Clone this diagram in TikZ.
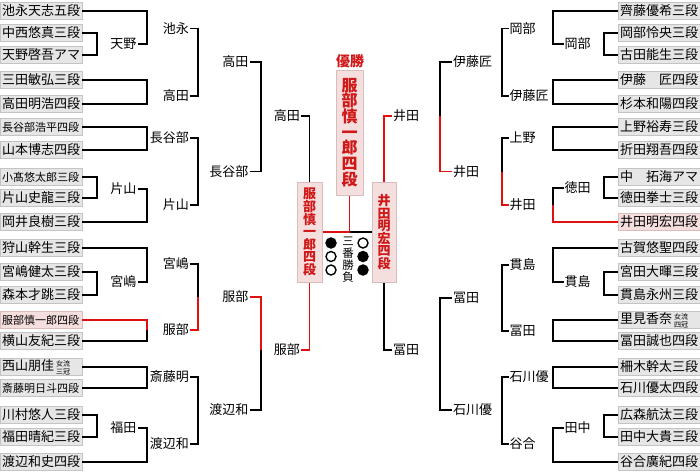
\documentclass[tikz,border=0pt]{standalone}
\usepackage{fontspec}
\setmainfont{Noto Sans CJK JP}
\definecolor{boxfill}{HTML}{E6E6E6}
\definecolor{boxedge}{HTML}{C4C4C4}
\definecolor{pinkfill}{HTML}{F5DEDE}
\definecolor{pinkedge}{HTML}{D9BDBD}
\definecolor{winred}{HTML}{E01010}
\definecolor{txtred}{HTML}{D01818}
\newcommand\jfs[1]{\fontsize{#1}{#1}\selectfont}
\newcommand\jttl[2]{$\vcenter{\fontsize{7}{8}\selectfont\hbox{#1}\hbox{#2}}$}
\newcommand\brL[6]{\draw[#5] (#1.east) -- (#1.east -| #4) -- (#3.west -| #4); \draw[#6] (#2.east) -- (#2.east -| #4) -- (#3.west -| #4);}
\newcommand\brR[6]{\draw[#5] (#1.west) -- (#1.west -| #4) -- (#3.east -| #4); \draw[#6] (#2.west) -- (#2.west -| #4) -- (#3.east -| #4);}
\begin{document}
\begin{tikzpicture}[x=1pt,y=-1pt,
  box/.style={draw=boxedge, fill=boxfill, line width=0.8, minimum height=17, text width=78, inner xsep=2, inner ysep=0, align=left, font=\jfs{13}},
  small/.style={font=\jfs{11}},
  champ/.style={draw=pinkedge, fill=pinkfill},
  lab/.style={font=\jfs{13}, inner sep=1},
  bk/.style={line width=1.5, draw=black},
  rd/.style={line width=1.5, draw=winred},
  vbox/.style={draw=pinkedge, fill=pinkfill, line width=1, inner sep=0, align=center, text=txtred},
  circ/.style={circle, draw=black, line width=1.4, minimum size=10, inner sep=0}]
\useasboundingbox (0,0) rectangle (700,474);
% left boxes
\node[box] (L0) at (41,11) {池永天志五段};
\node[box] (L1) at (41,33) {中西悠真三段};
\node[box] (L2) at (41,55) {天野啓吾アマ};
\node[box] (L3) at (41,80) {三田敏弘三段};
\node[box] (L4) at (41,104) {高田明浩四段};
\node[box,small] (L5) at (41,127) {長谷部浩平四段};
\node[box] (L6) at (41,150) {山本博志四段};
\node[box,small] (L7) at (41,177) {小髙悠太郎三段};
\node[box] (L8) at (41,198) {片山史龍三段};
\node[box] (L9) at (41,222) {岡井良樹三段};
\node[box] (L10) at (41,248) {狩山幹生三段};
\node[box] (L11) at (41,272) {宮嶋健太三段};
\node[box] (L12) at (41,295) {森本才跳三段};
\node[box,small,champ] (L13) at (41,320) {服部慎一郎四段};
\node[box] (L14) at (41,341) {横山友紀三段};
\node[box] (L15) at (41,367) {西山朋佳\,\jttl{女流}{三冠}};
\node[box,small] (L16) at (41,388) {斎藤明日斗四段};
\node[box] (L17) at (41,415) {川村悠人三段};
\node[box] (L18) at (41,437) {福田晴紀三段};
\node[box] (L19) at (41,462) {渡辺和史四段};
% right boxes
\node[box] (R0) at (659,11) {齊藤優希三段};
\node[box] (R1) at (659,33) {岡部怜央三段};
\node[box] (R2) at (659,55) {古田能生三段};
\node[box] (R3) at (659,80) {伊藤　匠四段};
\node[box] (R4) at (659,104) {杉本和陽四段};
\node[box] (R5) at (659,127) {上野裕寿三段};
\node[box] (R6) at (659,150) {折田翔吾四段};
\node[box] (R7) at (659,177) {中　拓海アマ};
\node[box] (R8) at (659,198) {徳田拳士三段};
\node[box,champ] (R9) at (659,222) {井田明宏四段};
\node[box] (R10) at (659,248) {古賀悠聖四段};
\node[box] (R11) at (659,272) {宮田大暉三段};
\node[box] (R12) at (659,295) {貫島永州三段};
\node[box] (R13) at (659,320) {里見香奈\,\jttl{女流}{四冠}};
\node[box] (R14) at (659,341) {冨田誠也四段};
\node[box] (R15) at (659,367) {柵木幹太三段};
\node[box] (R16) at (659,388) {石川優太四段};
\node[box] (R17) at (659,415) {広森航汰三段};
\node[box] (R18) at (659,437) {田中大貴三段};
\node[box] (R19) at (659,462) {谷合廣紀四段};
% vertical columns
\coordinate (va) at (97,0);
\coordinate (vb) at (147,0);
\coordinate (vc) at (198,0);
\coordinate (vd) at (261,0);
\coordinate (wa) at (604,0);
\coordinate (wb) at (553,0);
\coordinate (wc) at (502,0);
\coordinate (wd) at (440,0);
% left labels
\node[lab,anchor=east] (a1) at (137.5,44) {天野};
\node[lab,anchor=east] (a2) at (137.5,189) {片山};
\node[lab,anchor=east] (a3) at (137.5,282) {宮嶋};
\node[lab,anchor=east] (a4) at (137.5,428) {福田};
\node[lab,anchor=east] (b1) at (190,28.5) {池永};
\node[lab,anchor=east] (b2) at (190,96) {高田};
\node[lab,anchor=east] (b3) at (190,138) {長谷部};
\node[lab,anchor=east] (b4) at (190,205) {片山};
\node[lab,anchor=east] (b5) at (190,264) {宮嶋};
\node[lab,anchor=east] (b6) at (190,330) {服部};
\node[lab,anchor=east] (b7) at (190,377) {斎藤明};
\node[lab,anchor=east] (b8) at (190,444) {渡辺和};
\node[lab,anchor=east] (c1) at (249.5,62) {高田};
\node[lab,anchor=east] (c2) at (249.5,171.5) {長谷部};
\node[lab,anchor=east] (c3) at (249.5,297) {服部};
\node[lab,anchor=east] (c4) at (249.5,410) {渡辺和};
\node[lab,anchor=east] (d1) at (301,116) {高田};
\node[lab,anchor=east] (d2) at (301,350) {服部};
% right labels
\node[lab,anchor=west] (e1) at (563.5,44) {岡部};
\node[lab,anchor=west] (e2) at (563.5,188) {徳田};
\node[lab,anchor=west] (e3) at (563.5,282) {貫島};
\node[lab,anchor=west] (e4) at (563.5,428) {田中};
\node[lab,anchor=west] (f1) at (508.5,28.5) {岡部};
\node[lab,anchor=west] (f2) at (508.5,96) {伊藤匠};
\node[lab,anchor=west] (f3) at (508.5,138) {上野};
\node[lab,anchor=west] (f4) at (508.5,205) {井田};
\node[lab,anchor=west] (f5) at (508.5,265) {貫島};
\node[lab,anchor=west] (f6) at (508.5,331) {冨田};
\node[lab,anchor=west] (f7) at (508.5,377) {石川優};
\node[lab,anchor=west] (f8) at (508.5,444) {谷合};
\node[lab,anchor=west] (g1) at (452,62) {伊藤匠};
\node[lab,anchor=west] (g2) at (452,171.5) {井田};
\node[lab,anchor=west] (g3) at (452,298) {冨田};
\node[lab,anchor=west] (g4) at (452,410) {石川優};
\node[lab,anchor=west] (h1) at (392,116) {井田};
\node[lab,anchor=west] (h2) at (392,350) {冨田};
% finalists and champion
\node[vbox, minimum width=25, minimum height=100, font=\bfseries\fontsize{13}{12.6}\selectfont] (FL) at (309.5,232) {服\\部\\慎\\一\\郎\\四\\段};
\node[vbox, minimum width=24, minimum height=100, font=\bfseries\fontsize{13}{12.6}\selectfont] (FR) at (384,232) {井\\田\\明\\宏\\四\\段};
\node[vbox, minimum width=27, minimum height=125, font=\bfseries\fontsize{16}{15.7}\selectfont] (C) at (349.5,132.5) {服\\部\\慎\\一\\郎\\四\\段};
\node[text=txtred, font=\bfseries\jfs{14}, inner sep=0] (win) at (350,61) {優勝};
% left brackets
\brL{L1}{L2}{a1}{va}{bk}{bk}
\brL{L7}{L8}{a2}{va}{bk}{bk}
\brL{L11}{L12}{a3}{va}{bk}{bk}
\brL{L17}{L18}{a4}{va}{bk}{bk}
\brL{L0}{a1}{b1}{vb}{bk}{bk}
\brL{L3}{L4}{b2}{vb}{bk}{bk}
\brL{L5}{L6}{b3}{vb}{bk}{bk}
\brL{a2}{L9}{b4}{vb}{bk}{bk}
\brL{L10}{a3}{b5}{vb}{bk}{bk}
\brL{L13}{L14}{b6}{vb}{rd}{bk}
\brL{L15}{L16}{b7}{vb}{bk}{bk}
\brL{a4}{L19}{b8}{vb}{bk}{bk}
\brL{b1}{b2}{c1}{vc}{bk}{bk}
\brL{b3}{b4}{c2}{vc}{bk}{bk}
\brL{b5}{b6}{c3}{vc}{bk}{rd}
\brL{b7}{b8}{c4}{vc}{bk}{bk}
\brL{c1}{c2}{d1}{vd}{bk}{bk}
\brL{c3}{c4}{d2}{vd}{rd}{bk}
% right brackets
\brR{R1}{R2}{e1}{wa}{bk}{bk}
\brR{R7}{R8}{e2}{wa}{bk}{bk}
\brR{R11}{R12}{e3}{wa}{bk}{bk}
\brR{R17}{R18}{e4}{wa}{bk}{bk}
\brR{R0}{e1}{f1}{wb}{bk}{bk}
\brR{R3}{R4}{f2}{wb}{bk}{bk}
\brR{R5}{R6}{f3}{wb}{bk}{bk}
\brR{e2}{R9}{f4}{wb}{bk}{rd}
\brR{R10}{e3}{f5}{wb}{bk}{bk}
\brR{R13}{R14}{f6}{wb}{bk}{bk}
\brR{R15}{R16}{f7}{wb}{bk}{bk}
\brR{e4}{R19}{f8}{wb}{bk}{bk}
\brR{f1}{f2}{g1}{wc}{bk}{bk}
\brR{f3}{f4}{g2}{wc}{bk}{rd}
\brR{f5}{f6}{g3}{wc}{bk}{bk}
\brR{f7}{f8}{g4}{wc}{bk}{bk}
\brR{g1}{g2}{h1}{wd}{bk}{rd}
\brR{g3}{g4}{h2}{wd}{bk}{bk}
% semifinal to final
\draw[bk] (d1.east) -| (FL.north);
\draw[rd] (d2.east) -| (FL.south);
\draw[rd] (h1.west) -| (FR.north);
\draw[bk] (h2.west) -| (FR.south);
\coordinate (fm) at (C.south |- FL.east);
\draw[rd] (FL.east) -- (fm) -- (C.south);
\draw[bk] (fm) -- (FR.west);
% three-game match
\node[circ, fill=black] (k1) at (331,243) {};
\node[circ] (k2) at (331,256.5) {};
\node[circ] (k3) at (331,270) {};
\node[circ] (k4) at (363,243) {};
\node[circ, fill=black] (k5) at (363,256.5) {};
\node[circ, fill=black] (k6) at (363,270) {};
\node[font=\fontsize{11.5}{12}\selectfont, align=center, inner sep=0, anchor=north] (sb) at (348,237) {三\\番\\勝\\負};
\end{tikzpicture}
\end{document}
